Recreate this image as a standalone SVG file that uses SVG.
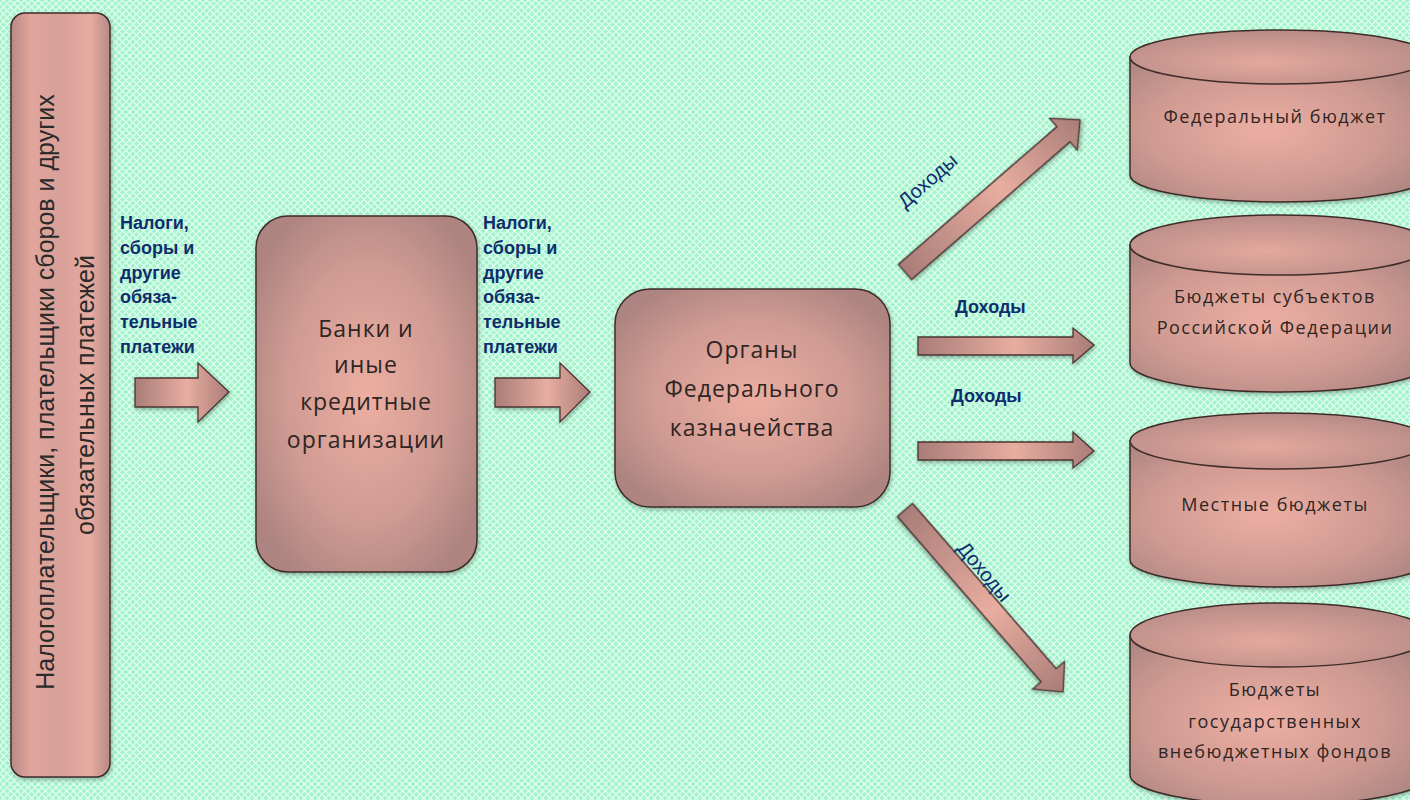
<svg xmlns="http://www.w3.org/2000/svg" width="1410" height="800" viewBox="0 0 1410 800">
<defs>
<pattern id="bgp" width="7" height="7" patternUnits="userSpaceOnUse">
<rect width="7" height="7" fill="#a2f4cc"/>
<path d="M0 3.5 L3.5 0 L7 3.5 L3.5 7 Z" fill="none" stroke="#ffffff" stroke-width="1.1" stroke-opacity="0.75"/>
</pattern>
<radialGradient id="boxg" cx="0.5" cy="0.5" r="0.6">
<stop offset="0" stop-color="#ecaea2"/>
<stop offset="0.6" stop-color="#d09b93"/>
<stop offset="1" stop-color="#ad8480"/>
</radialGradient>
<linearGradient id="colg" x1="0" y1="0" x2="1" y2="0">
<stop offset="0" stop-color="#b88985"/>
<stop offset="0.2" stop-color="#e0a69d"/>
<stop offset="0.5" stop-color="#d8a098"/>
<stop offset="0.8" stop-color="#e6aba1"/>
<stop offset="1" stop-color="#b88985"/>
</linearGradient>
<radialGradient id="cylg" cx="0.45" cy="0.5" r="0.65">
<stop offset="0" stop-color="#ecaea3"/>
<stop offset="0.6" stop-color="#cf9a92"/>
<stop offset="1" stop-color="#ad8581"/>
</radialGradient>
<radialGradient id="cyltop" cx="0.45" cy="0.6" r="0.6">
<stop offset="0" stop-color="#e4a89d"/>
<stop offset="1" stop-color="#b88c87"/>
</radialGradient>
<linearGradient id="arrg" x1="0" y1="0" x2="1" y2="0">
<stop offset="0" stop-color="#a97d78"/>
<stop offset="0.55" stop-color="#e8ada0"/>
<stop offset="1" stop-color="#a97d78"/>
</linearGradient>
<filter id="sh" x="-10%" y="-10%" width="120%" height="120%">
<feGaussianBlur in="SourceAlpha" stdDeviation="2"/>
<feOffset dx="1" dy="2"/>
<feComponentTransfer><feFuncA type="linear" slope="0.3"/></feComponentTransfer>
<feMerge><feMergeNode/><feMergeNode in="SourceGraphic"/></feMerge>
</filter>
</defs>
<style>
.box{fill:url(#boxg);stroke:#3e2c28;stroke-width:1.5}
.cyl{fill:url(#cylg);stroke:#3e2c28;stroke-width:1.5}
.cylt{fill:url(#cyltop);stroke:#3e2c28;stroke-width:1.5}
.arr{fill:url(#arrg);stroke:#4a3430;stroke-width:1.3}
.bt{font-family:"Open Sans","Noto Sans",sans-serif;font-size:23px;fill:#2f2523;text-anchor:middle;letter-spacing:1px}
.ct{font-family:"Open Sans","Noto Sans",sans-serif;font-size:18px;fill:#2f2523;text-anchor:middle;letter-spacing:1.5px}
.lt{font-family:"Liberation Sans",Arial,sans-serif;font-size:25px;fill:#2a2a2a;text-anchor:middle}
.lab{font-family:"Liberation Sans",Arial,sans-serif;font-size:18px;font-weight:bold;fill:#0f2d6c}
.dl{font-family:"Liberation Sans",Arial,sans-serif;font-size:20px;fill:#0f2d6c;text-anchor:middle}
</style>
<rect width="1410" height="800" fill="url(#bgp)"/>

<g id="payers">
<rect x="11" y="13" width="99" height="764" rx="14" fill="url(#colg)" stroke="#3e2c28" stroke-width="1.5" filter="url(#sh)"/>
<text class="lt" transform="translate(54 392) rotate(-90)">Налогоплательщики, плательщики сборов и других</text>
<text class="lt" transform="translate(94 395) rotate(-90)">обязательных платежей</text>
</g>

<g id="banks">
<rect class="box" x="256" y="216" width="221" height="356" rx="32" filter="url(#sh)"/>
<text class="bt" x="366" y="337">Банки и</text>
<text class="bt" x="366" y="373">иные</text>
<text class="bt" x="366" y="410">кредитные</text>
<text class="bt" x="366" y="448">организации</text>
</g>

<g id="treasury">
<rect class="box" x="615" y="289" width="275" height="218" rx="35" filter="url(#sh)"/>
<text class="bt" x="752" y="358">Органы</text>
<text class="bt" x="752" y="397">Федерального</text>
<text class="bt" x="752" y="436">казначейства</text>
</g>

<g id="federal">
<path class="cyl" d="M1130 57 L1130 175 A150 27 0 0 0 1430 175 L1430 57 Z" filter="url(#sh)"/>
<ellipse class="cylt" cx="1280" cy="57" rx="150" ry="27"/>
<text class="ct" x="1275" y="123">Федеральный бюджет</text>
</g>

<g id="regional">
<path class="cyl" d="M1130 245 L1130 363 A150 29 0 0 0 1430 363 L1430 245 Z" filter="url(#sh)"/>
<ellipse class="cylt" cx="1280" cy="245" rx="150" ry="30"/>
<text class="ct" x="1275" y="303">Бюджеты субъектов</text>
<text class="ct" x="1275" y="334">Российской Федерации</text>
</g>

<g id="local">
<path class="cyl" d="M1130 441 L1130 560 A150 27 0 0 0 1430 560 L1430 441 Z" filter="url(#sh)"/>
<ellipse class="cylt" cx="1280" cy="441" rx="150" ry="28"/>
<text class="ct" x="1275" y="511">Местные бюджеты</text>
</g>

<g id="funds">
<path class="cyl" d="M1130 635 L1130 775 A150 30 0 0 0 1430 775 L1430 635 Z" filter="url(#sh)"/>
<ellipse class="cylt" cx="1280" cy="635" rx="150" ry="32"/>
<text class="ct" x="1275" y="696">Бюджеты</text>
<text class="ct" x="1275" y="728">государственных</text>
<text class="ct" x="1275" y="758">внебюджетных фондов</text>
</g>

<g id="connectors">
<polygon class="arr" points="135,378 198,378 198,363 229,392 198,422 198,407 135,407" filter="url(#sh)"/>
<polygon class="arr" points="495,378 560,378 560,363 590,392 560,422 560,407 495,407" filter="url(#sh)"/>
<polygon class="arr" points="918,337 1073,337 1073,328 1094,345 1073,363 1073,355 918,355" filter="url(#sh)"/>
<polygon class="arr" points="918,442 1073,442 1073,432 1094,451 1073,468 1073,460 918,460" filter="url(#sh)"/>
<polygon class="arr" transform="translate(905 272) rotate(-41)" points="0,-10 210,-10 210,-21 232,0 210,21 210,10 0,10" filter="url(#sh)"/>
<polygon class="arr" transform="translate(905 510) rotate(49)" points="0,-10 219,-10 219,-21 241,0 219,21 219,10 0,10" filter="url(#sh)"/>
</g>

<g id="labels">
<text class="lab" x="120" y="229">Налоги,</text>
<text class="lab" x="120" y="254">сборы и</text>
<text class="lab" x="120" y="279">другие</text>
<text class="lab" x="120" y="303">обяза-</text>
<text class="lab" x="120" y="328">тельные</text>
<text class="lab" x="120" y="353">платежи</text>
<text class="lab" x="483" y="229">Налоги,</text>
<text class="lab" x="483" y="254">сборы и</text>
<text class="lab" x="483" y="279">другие</text>
<text class="lab" x="483" y="303">обяза-</text>
<text class="lab" x="483" y="328">тельные</text>
<text class="lab" x="483" y="353">платежи</text>
<text class="lab" x="955" y="313">Доходы</text>
<text class="lab" x="951" y="402">Доходы</text>
<text class="dl" transform="translate(932 186) rotate(-41)">Доходы</text>
<text class="dl" transform="translate(979 576) rotate(50)">Доходы</text>
</g>
</svg>
